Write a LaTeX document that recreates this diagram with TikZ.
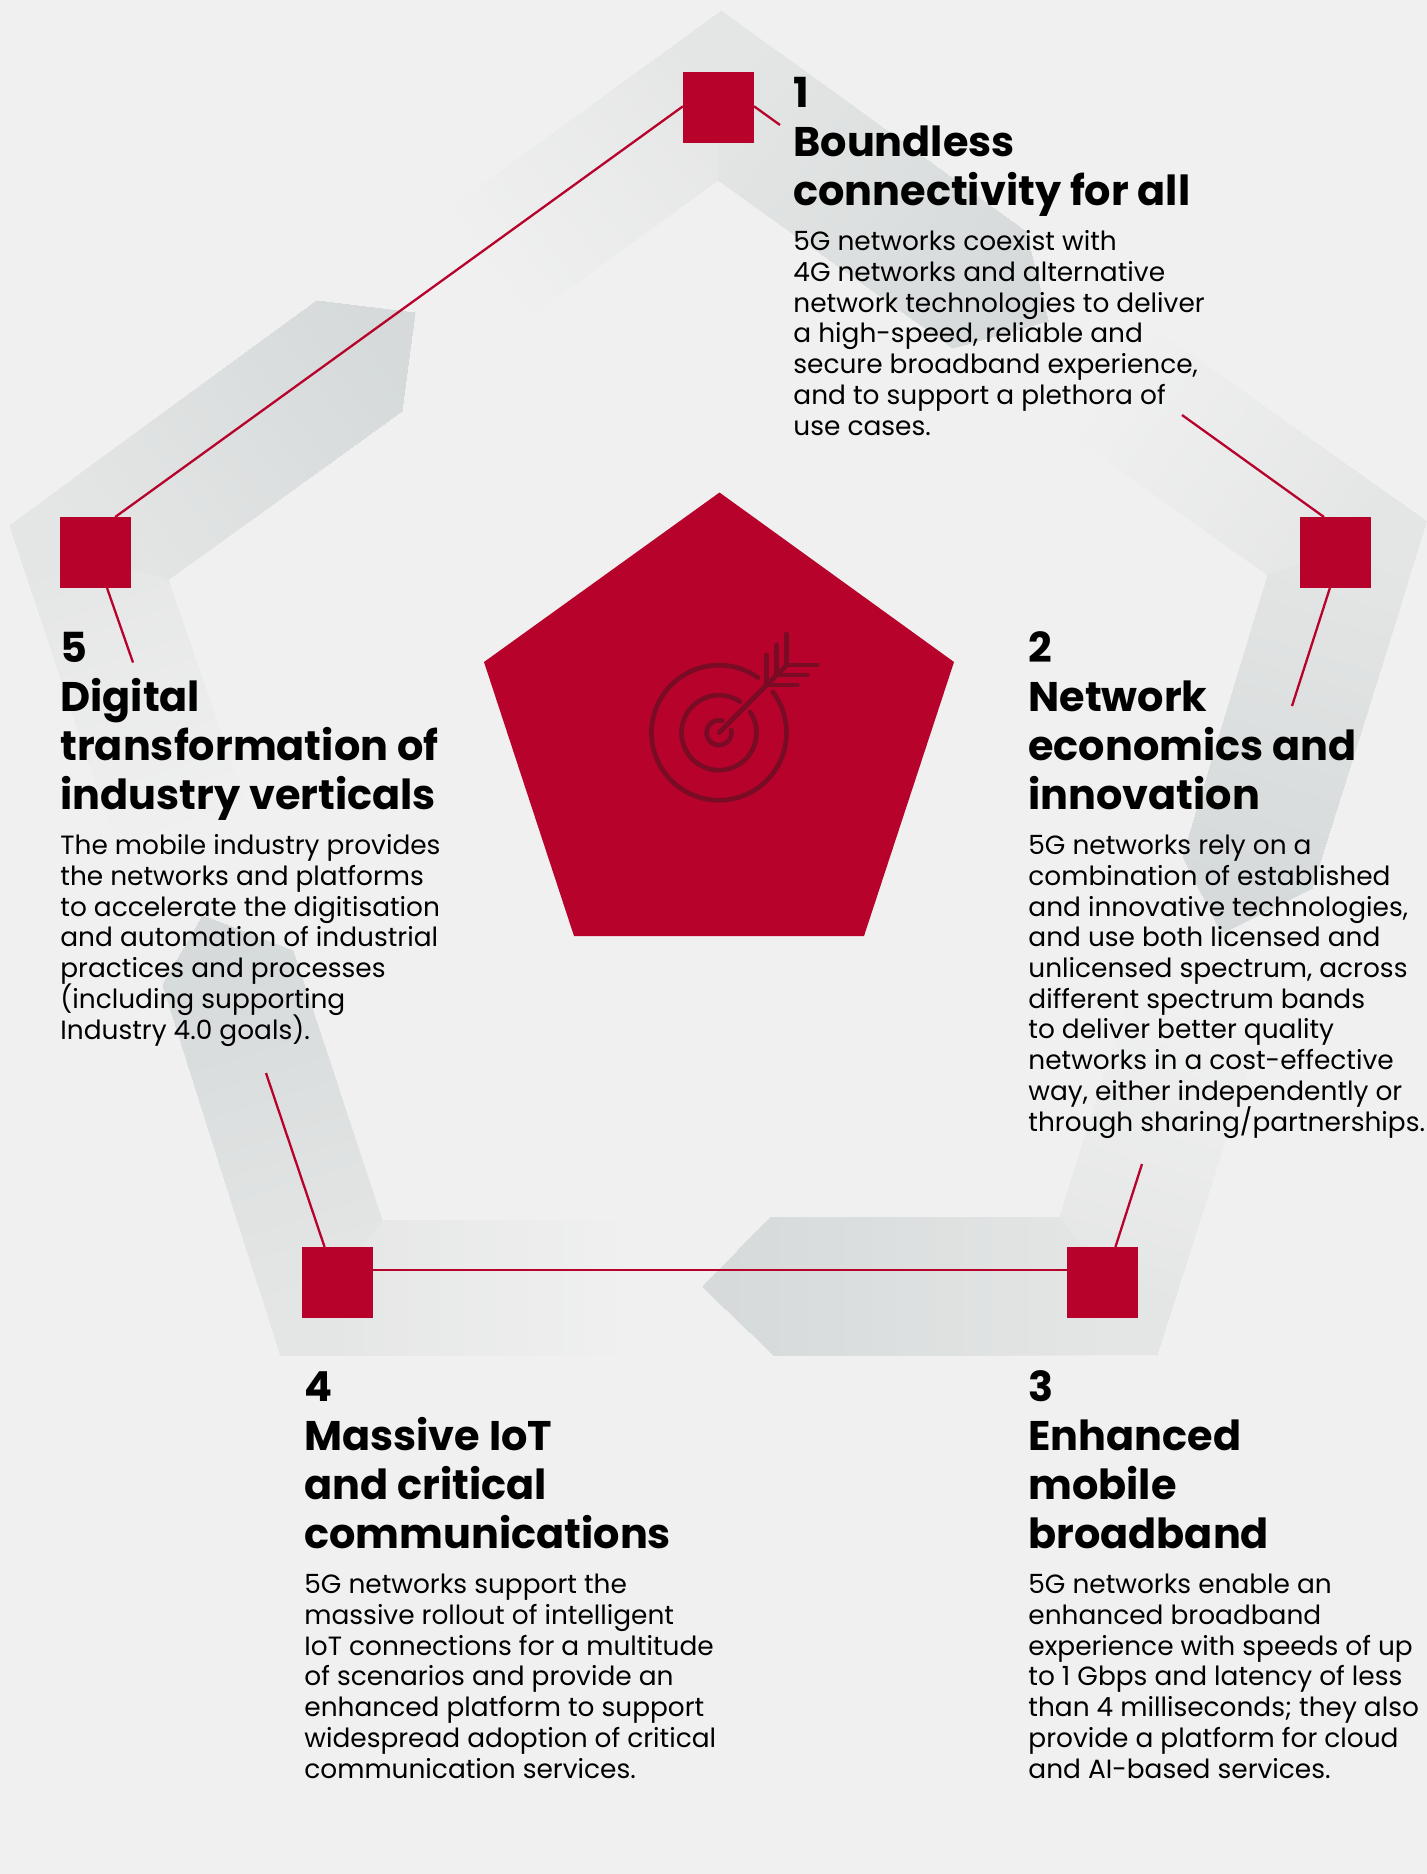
\documentclass[tikz,border=0pt]{standalone}
\usepackage{fontspec}
\setmainfont{Poppins}
\usetikzlibrary{positioning}

\definecolor{pagegray}{HTML}{F0F0F0}
\definecolor{bandmid}{HTML}{E4E6E5}
\definecolor{banddark}{HTML}{D6DADB}
\definecolor{fivegred}{HTML}{B7032B}
\definecolor{icondark}{HTML}{7A0B25}

\newcommand{\bandpart}[7]{%
    \begin{scope}
        \clip #1;
        \fill[#6] #1;
        \pgfmathsetmacro{\bandang}{atan2(#3-#5,#4-#2)}
        \pgfmathsetmacro{\bandlen}{veclen(#4-#2,#5-#3)}
        \begin{scope}[shift={(#2,#3)}, rotate=\bandang]
            \foreach \i in {1,...,28} {
                \pgfmathsetmacro{\bandpc}{100*\i/28}
                \fill[#7!\bandpc!#6] (\i/28*\bandlen,-1500) rectangle (3000,1500);
            }
        \end{scope}
    \end{scope}}

\begin{document}
\begin{tikzpicture}[x=.5pt, y=-.5pt,
    redbox/.style={fill=fivegred, minimum size=35.5pt, inner sep=0pt, outer sep=0pt},
    redline/.style={draw=fivegred, line width=1.15pt},
    iconline/.style={draw=icondark, line width=2.35pt, line cap=round},
    headtext/.style={anchor=base west, align=left, inner sep=0pt, font=\fontsize{20.7}{24.5}\selectfont\bfseries\lineskiplimit-100pt\relax},
    bodytext/.style={anchor=base west, align=left, inner sep=0pt, font=\fontsize{13.2}{15.35}\selectfont\lineskiplimit-100pt\relax}]

    \fill[pagegray] (0,0) rectangle (1427,1874);
    \useasboundingbox (0,0) rectangle (1427,1874);

    \bandpart{(722,11) -- (718,180) -- (513,329) -- (437,218) -- cycle}{475}{273}{720}{95}{pagegray}{bandmid}
    \bandpart{(722,11) -- (1026,232) -- (1048,321) -- (953,348) -- (718,180) -- cycle}{720}{95}{1000}{298}{bandmid}{banddark}

    \bandpart{(1142,320) -- (1427,522) -- (1268,575) -- (1059,427) -- cycle}{1100}{374}{1347}{548}{pagegray}{bandmid}
    \bandpart{(1427,522) -- (1312,888) -- (1222,933) -- (1183,857) -- (1268,575) -- cycle}{1347}{548}{1244}{877}{bandmid}{banddark}

    \bandpart{(1263,1022) -- (1157,1355) -- (1060,1217) -- (1135,976) -- cycle}{1199}{999}{1108}{1286}{pagegray}{bandmid}
    \bandpart{(1157,1355) -- (774,1355) -- (703,1287) -- (771,1217) -- (1060,1217) -- cycle}{1108}{1286}{740}{1286}{bandmid}{banddark}

    \bandpart{(640,1355) -- (280,1355) -- (382,1220) -- (640,1220) -- cycle}{640}{1287}{331}{1287}{pagegray}{bandmid}
    \bandpart{(280,1355) -- (163,985) -- (203,916) -- (293,951) -- (382,1220) -- cycle}{331}{1287}{227}{958}{bandmid}{banddark}

    \bandpart{(123,865) -- (10,525) -- (168,580) -- (252,823) -- cycle}{187}{844}{89}{552}{pagegray}{bandmid}
    \bandpart{(10,525) -- (317,301) -- (415,313) -- (402,411) -- (168,580) -- cycle}{89}{552}{368}{349}{bandmid}{banddark}

    \fill[fivegred] (719.5,492.5) -- (954,662) -- (864,936) -- (574,936) -- (484,662) -- cycle;

    \draw[iconline] ({719+67.5*cos(54.7)},{732.7-67.5*sin(54.7)}) arc[start angle=54.7, end angle=397, radius=33.75pt];
    \draw[iconline] ({719+37.5*cos(56)},{732.7-37.5*sin(56)}) arc[start angle=56, end angle=393.5, radius=18.75pt];
    \draw[iconline] ({719+12.5*cos(74)},{732.7-12.5*sin(74)}) arc[start angle=74, end angle=372, radius=6.25pt];
    \draw[iconline] (719,732.7) -- (786.7,665);
    \draw[iconline] (766.7,685) -- (766.7,655) (776.7,675) -- (776.7,645) (786.7,665) -- (786.7,634);
    \draw[iconline] (766.7,685) -- (797.3,685) (776.7,675) -- (807.3,675) (786.7,665) -- (817.3,665);

    \node[redbox] (boxone) at (718.5,107.5) {};
    \node[redbox] (boxtwo) at (1335.5,552.5) {};
    \node[redbox] (boxthree) at (1102.5,1282.5) {};
    \node[redbox] (boxfour) at (337.5,1282.5) {};
    \node[redbox] (boxfive) at (95.5,552.5) {};

    \coordinate (endone) at (780,125);
    \coordinate (starttwo) at (1182,415);
    \coordinate (endtwo) at (1292,706);
    \coordinate (startthree) at (1142,1164);
    \coordinate (startfour) at (266,1073);
    \coordinate (endfive) at (133,662.5);

    \draw[redline] (boxfive.61) -- (boxone.178);
    \draw[redline] (boxone.2.4) -- (endone);
    \draw[redline] (starttwo) -- (boxtwo.108.7);
    \draw[redline] (boxtwo.261) -- (endtwo);
    \draw[redline] (startthree) -- (boxthree.70.6);
    \draw[redline] (boxthree.west |- boxfour.19.4) -- (boxfour.19.4);
    \draw[redline] (startfour) -- (boxfour.110.8);
    \draw[redline] (boxfive.288) -- (endfive);

    \node[headtext] (headone) at (793,205) {1\\Boundless\\connectivity for all};
    \node[bodytext] (textone) at (793,435) {5G networks coexist with\\4G networks and alternative\\network technologies to deliver\\a high-speed, reliable and\\secure broadband experience,\\and to support a plethora of\\use cases.};

    \node[headtext] (headtwo) at (1028,809) {2\\Network\\economics and\\innovation};
    \node[bodytext] (texttwo) at (1028,1131) {5G networks rely on a\\combination of established\\and innovative technologies,\\and use both licensed and\\unlicensed spectrum, across\\different spectrum bands\\to deliver better quality\\networks in a cost-effective\\way, either independently or\\through sharing/partnerships.};

    \node[headtext] (headthree) at (1028,1548) {3\\Enhanced\\mobile\\broadband};
    \node[bodytext] (textthree) at (1028,1778) {5G networks enable an\\enhanced broadband\\experience with speeds of up\\to 1 Gbps and latency of less\\than 4 milliseconds; they also\\provide a platform for cloud\\and AI-based services.};

    \node[headtext] (headfour) at (304,1548) {4\\Massive IoT\\and critical\\communications};
    \node[bodytext] (textfour) at (304,1778) {5G networks support the\\massive rollout of intelligent\\IoT connections for a multitude\\of scenarios and provide an\\enhanced platform to support\\widespread adoption of critical\\communication services.};

    \node[headtext] (headfive) at (60,809) {5\\Digital\\transformation of\\industry verticals};
    \node[bodytext] (textfive) at (60,1039) {The mobile industry provides\\the networks and platforms\\to accelerate the digitisation\\and automation of industrial\\practices and processes\\(including supporting\\Industry 4.0 goals).};
\end{tikzpicture}
\end{document}
